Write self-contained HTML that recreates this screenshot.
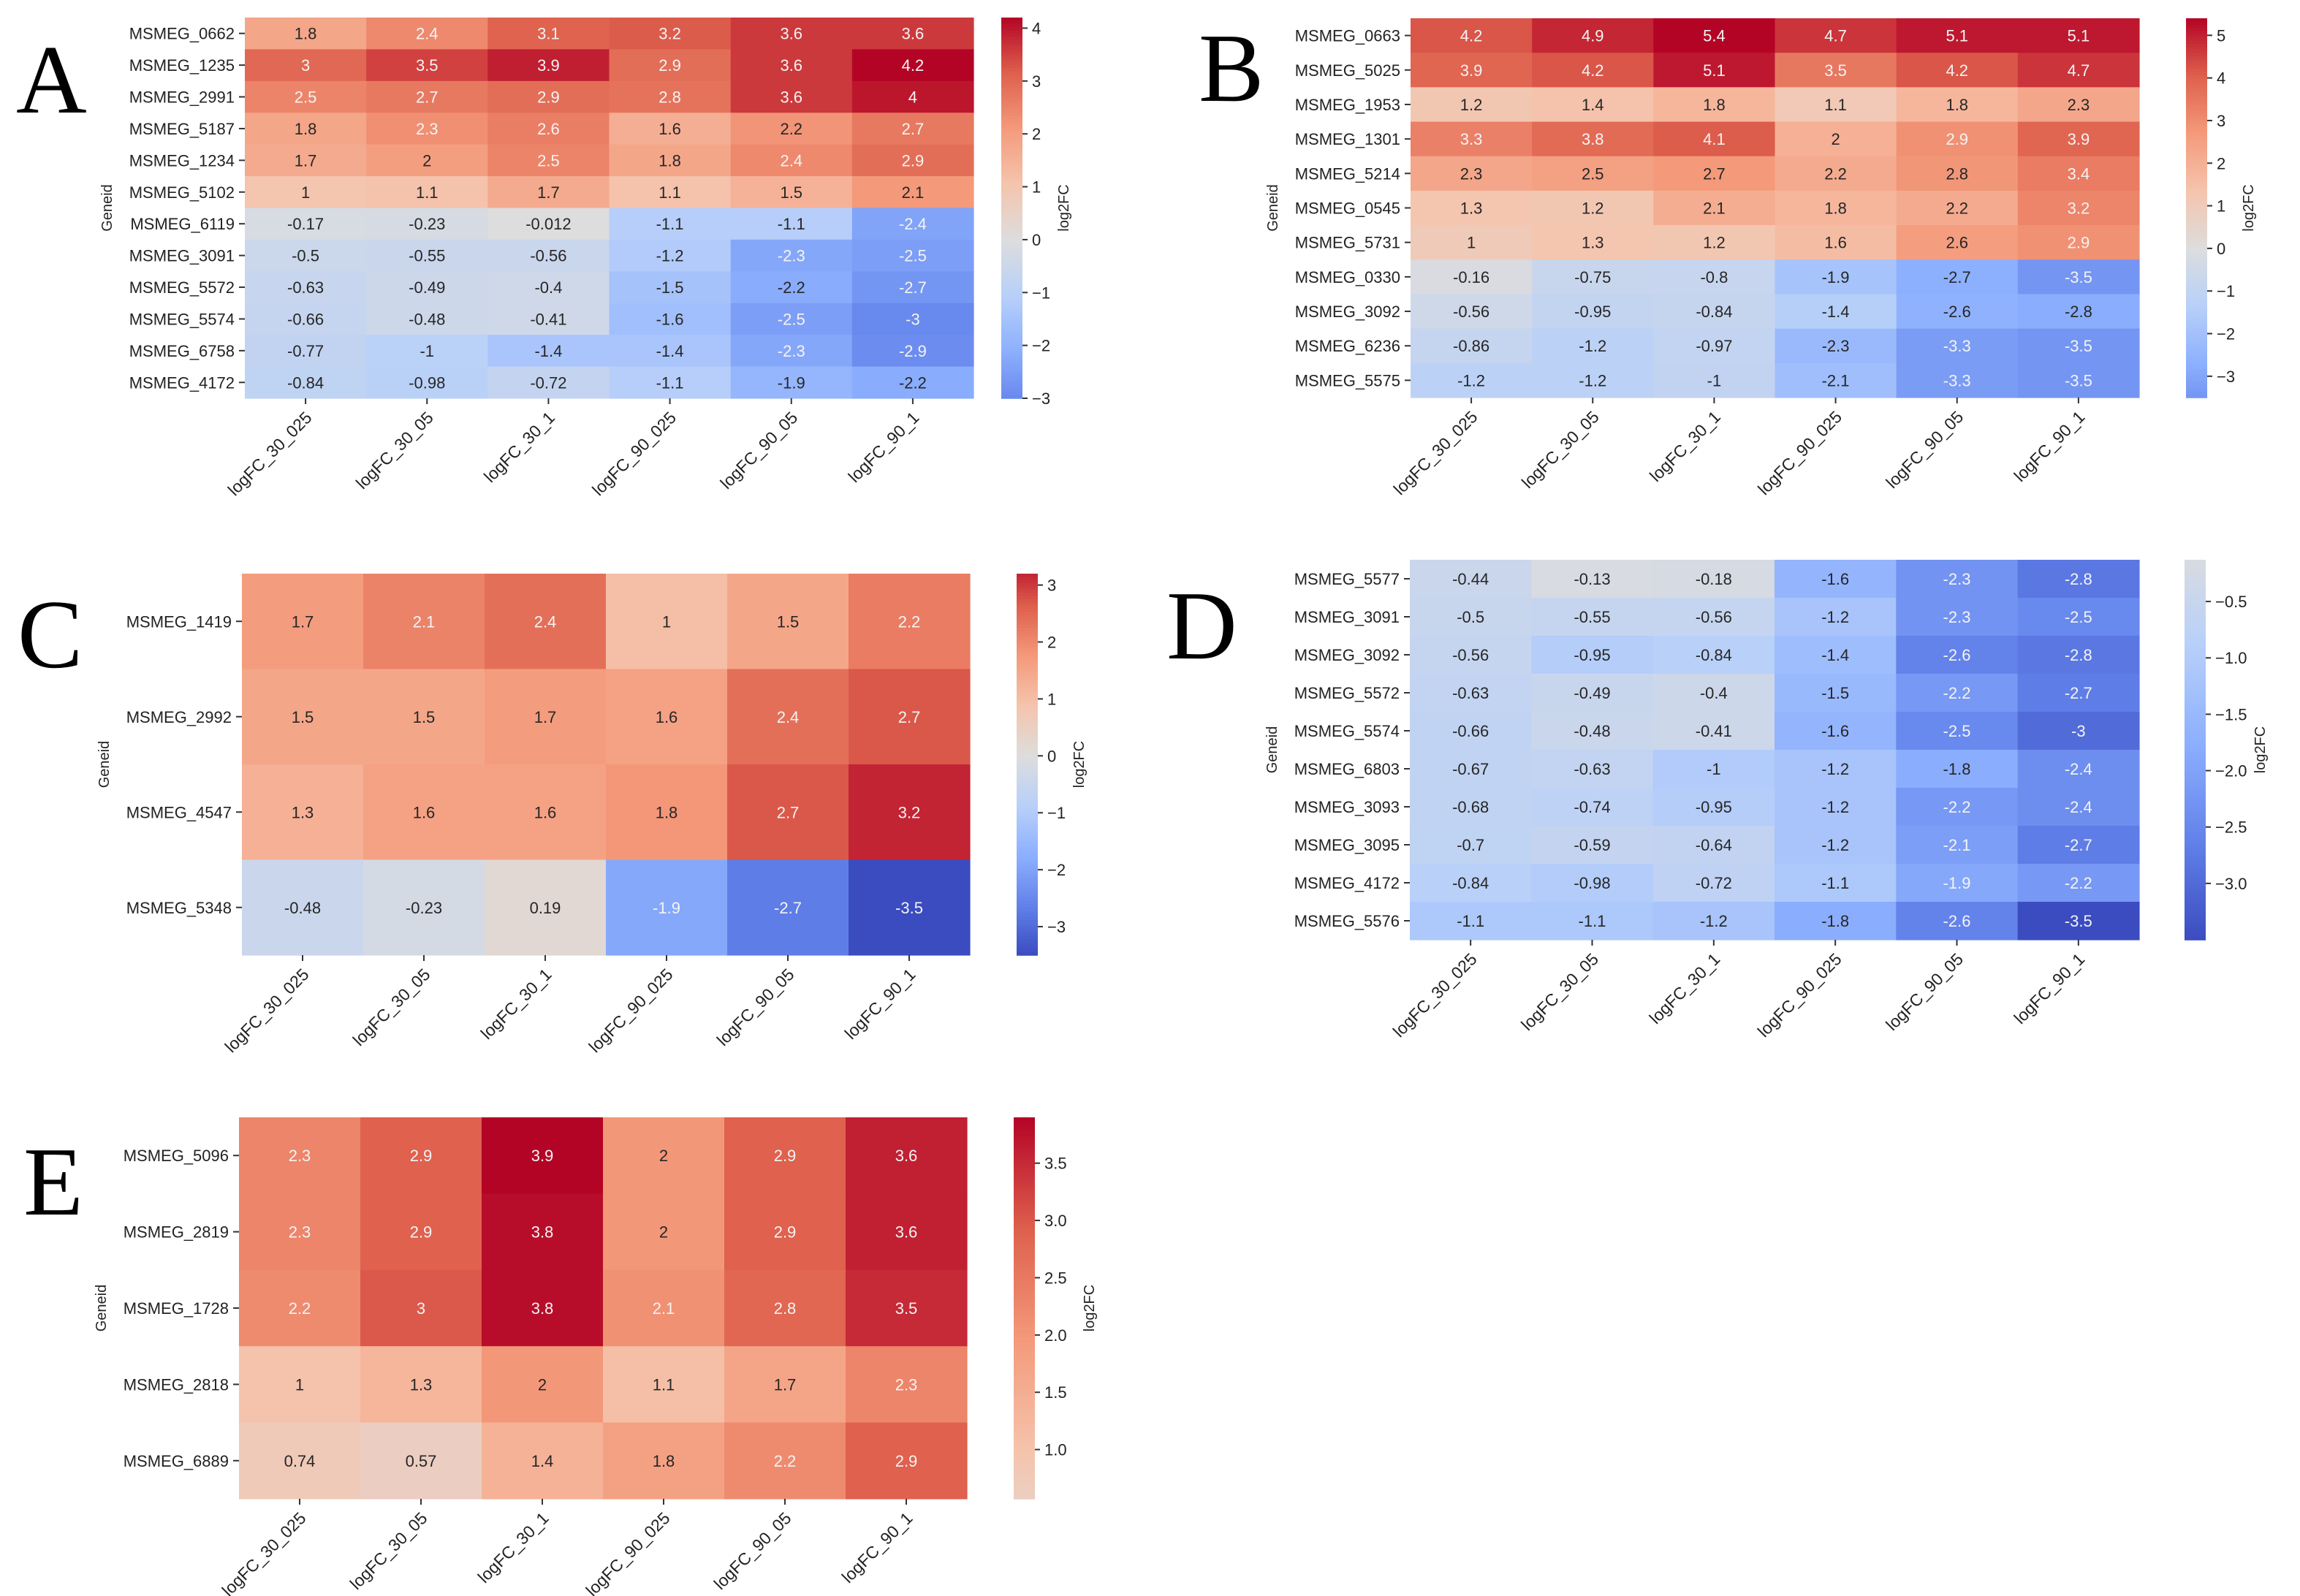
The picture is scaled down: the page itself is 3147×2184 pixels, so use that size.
<!DOCTYPE html>
<html><head><meta charset="utf-8">
<style>
html,body{margin:0;padding:0;background:#fff;}
svg{display:block;}
text{font-family:"Liberation Sans",sans-serif;}
.letter{font-family:"Liberation Serif",serif;}
</style></head>
<body>
<svg id="fig" width="3147" height="2184" viewBox="0 0 3147 2184" xmlns="http://www.w3.org/2000/svg"></svg>
<script>
const columns = ["logFC_30_025","logFC_30_05","logFC_30_1","logFC_90_025","logFC_90_05","logFC_90_1"];

const genesA = ["MSMEG_0662","MSMEG_1235","MSMEG_2991","MSMEG_5187","MSMEG_1234","MSMEG_5102","MSMEG_6119","MSMEG_3091","MSMEG_5572","MSMEG_5574","MSMEG_6758","MSMEG_4172"];
const valuesA = [
 [1.8,2.4,3.1,3.2,3.6,3.6],[3,3.5,3.9,2.9,3.6,4.2],[2.5,2.7,2.9,2.8,3.6,4],[1.8,2.3,2.6,1.6,2.2,2.7],
 [1.7,2,2.5,1.8,2.4,2.9],[1,1.1,1.7,1.1,1.5,2.1],[-0.17,-0.23,-0.012,-1.1,-1.1,-2.4],[-0.5,-0.55,-0.56,-1.2,-2.3,-2.5],
 [-0.63,-0.49,-0.4,-1.5,-2.2,-2.7],[-0.66,-0.48,-0.41,-1.6,-2.5,-3],[-0.77,-1,-1.4,-1.4,-2.3,-2.9],[-0.84,-0.98,-0.72,-1.1,-1.9,-2.2]];
const ticksA = [-3,-2,-1,0,1,2,3,4];

const genesB = ["MSMEG_0663","MSMEG_5025","MSMEG_1953","MSMEG_1301","MSMEG_5214","MSMEG_0545","MSMEG_5731","MSMEG_0330","MSMEG_3092","MSMEG_6236","MSMEG_5575"];
const valuesB = [
 [4.2,4.9,5.4,4.7,5.1,5.1],[3.9,4.2,5.1,3.5,4.2,4.7],[1.2,1.4,1.8,1.1,1.8,2.3],[3.3,3.8,4.1,2,2.9,3.9],
 [2.3,2.5,2.7,2.2,2.8,3.4],[1.3,1.2,2.1,1.8,2.2,3.2],[1,1.3,1.2,1.6,2.6,2.9],[-0.16,-0.75,-0.8,-1.9,-2.7,-3.5],
 [-0.56,-0.95,-0.84,-1.4,-2.6,-2.8],[-0.86,-1.2,-0.97,-2.3,-3.3,-3.5],[-1.2,-1.2,-1,-2.1,-3.3,-3.5]];
const ticksB = [-3,-2,-1,0,1,2,3,4,5];

const genesC = ["MSMEG_1419","MSMEG_2992","MSMEG_4547","MSMEG_5348"];
const valuesC = [[1.7,2.1,2.4,1,1.5,2.2],[1.5,1.5,1.7,1.6,2.4,2.7],[1.3,1.6,1.6,1.8,2.7,3.2],[-0.48,-0.23,0.19,-1.9,-2.7,-3.5]];
const ticksC = [-3,-2,-1,0,1,2,3];

const genesD = ["MSMEG_5577","MSMEG_3091","MSMEG_3092","MSMEG_5572","MSMEG_5574","MSMEG_6803","MSMEG_3093","MSMEG_3095","MSMEG_4172","MSMEG_5576"];
const valuesD = [
 [-0.44,-0.13,-0.18,-1.6,-2.3,-2.8],[-0.5,-0.55,-0.56,-1.2,-2.3,-2.5],[-0.56,-0.95,-0.84,-1.4,-2.6,-2.8],
 [-0.63,-0.49,-0.4,-1.5,-2.2,-2.7],[-0.66,-0.48,-0.41,-1.6,-2.5,-3],[-0.67,-0.63,-1,-1.2,-1.8,-2.4],
 [-0.68,-0.74,-0.95,-1.2,-2.2,-2.4],[-0.7,-0.59,-0.64,-1.2,-2.1,-2.7],[-0.84,-0.98,-0.72,-1.1,-1.9,-2.2],[-1.1,-1.1,-1.2,-1.8,-2.6,-3.5]];
const ticksD = [-3.0,-2.5,-2.0,-1.5,-1.0,-0.5];

const genesE = ["MSMEG_5096","MSMEG_2819","MSMEG_1728","MSMEG_2818","MSMEG_6889"];
const valuesE = [[2.3,2.9,3.9,2,2.9,3.6],[2.3,2.9,3.8,2,2.9,3.6],[2.2,3,3.8,2.1,2.8,3.5],[1,1.3,2,1.1,1.7,2.3],[0.74,0.57,1.4,1.8,2.2,2.9]];
const ticksE = [1.0,1.5,2.0,2.5,3.0,3.5];

const NS = "http://www.w3.org/2000/svg";
const svg = document.getElementById('fig');
function mk(tag, attrs, parent){const e=document.createElementNS(NS,tag);for(const k in attrs)e.setAttribute(k,attrs[k]);(parent||svg).appendChild(e);return e;}

const cw = [[59,76,192],[98,130,234],[141,176,254],[184,208,249],[221,221,221],[245,196,173],[244,154,123],[222,96,77],[180,4,38]];
function cmap(t){t=Math.max(0,Math.min(1,t));const p=t*8;const i=Math.min(7,Math.floor(p));const f=p-i;
 return cw[i].map((c,k)=>Math.round(c+(cw[i+1][k]-c)*f));}
function fmt(v){return String(v);}

function panel(letter, genes, values, ticks, box, cb, letterPos, tickDec){
  const g = mk('g',{});
  
  
  const flat = values.flat(); const vmin=Math.min(...flat), vmax=Math.max(...flat);
  const vr = Math.max(Math.abs(vmin),Math.abs(vmax));
  const nR=genes.length, nC=columns.length;
  const cwid=(box.x2-box.x1)/nC, rh=(box.y2-box.y1)/nR;
  const xs=c=>box.x1+c*cwid, ys=r=>box.y1+r*rh;
  const col=v=>cmap((v+vr)/(2*vr));
  const L = mk('text',{x:letterPos[0],y:letterPos[1],'font-size':134,class:'letter',fill:'#000'},g);
  L.textContent=letter;
  
  
  values.forEach((row,r)=>row.forEach((v,c)=>{
    const cc=col(v);
    const rect=mk('rect',{x:xs(c),y:ys(r),width:cwid+0.6,height:rh+0.6,fill:`rgb(${cc})`},g);
    
    
    const light = Math.abs(v)/vr > 0.525;
    const t=mk('text',{x:xs(c)+cwid/2,y:ys(r)+rh/2+8,'text-anchor':'middle','font-size':22,fill:light?'#f4f4f4':'#262626'},g);
    t.textContent=fmt(v);
    
    
  }));
  genes.forEach((gn,r)=>{
    const y=ys(r)+rh/2;
    mk('line',{x1:box.x1-8,x2:box.x1,y1:y,y2:y,stroke:'#333','stroke-width':2},g);
    const t=mk('text',{x:box.x1-14,y:y+8,'text-anchor':'end','font-size':22,fill:'#222'},g);
    t.textContent=gn;
    
    
  });
  columns.forEach((cn,c)=>{
    const x=xs(c)+cwid/2;
    mk('line',{x1:x,x2:x,y1:box.y2,y2:box.y2+8,stroke:'#333','stroke-width':2},g);
    const t=mk('text',{x:x+10,y:box.y2+28,'text-anchor':'end','font-size':23,fill:'#222',transform:`rotate(-45 ${x+10} ${box.y2+28})`},g);
    t.textContent=cn;
    
    
  });
  const gx=box.x1-182, gyc=(box.y1+box.y2)/2;
  const gy=mk('text',{x:gx,y:gyc,'text-anchor':'middle','font-size':20,fill:'#222',transform:`rotate(-90 ${gx} ${gyc})`},g);
  gy.textContent='Geneid';
  
  
  // colorbar
  const cbg=mk('g',{},g);
  
  
  const N=120, ch=(box.y2-box.y1)/N;
  for(let i=0;i<N;i++){const v=vmax-(vmax-vmin)*(i+0.5)/N;
    mk('rect',{x:cb,y:box.y1+i*ch,width:29,height:ch+0.8,fill:`rgb(${col(v)})`},cbg);}
  const cy=v=>box.y1+(vmax-v)/(vmax-vmin)*(box.y2-box.y1);
  ticks.forEach(tv=>{const y=cy(tv);
    mk('line',{x1:cb+29,x2:cb+36,y1:y,y2:y,stroke:'#333','stroke-width':2},cbg);
    const t=mk('text',{x:cb+42,y:y+8,'font-size':22,fill:'#222'},cbg);
    t.textContent=(tv<0?'\u2212':'')+Math.abs(tv).toFixed(tickDec);
    
    
  });
  const lx=cb+(tickDec?110:92), ly=(box.y1+box.y2)/2;
  const lt=mk('text',{x:lx,y:ly,'text-anchor':'middle','font-size':20,fill:'#222',transform:`rotate(-90 ${lx} ${ly})`},cbg);
  lt.textContent='log2FC';
  
  
}

panel('A',genesA,valuesA,ticksA,{x1:335,x2:1332,y1:24,y2:545},1370,[22,154],0);
panel('B',genesB,valuesB,ticksB,{x1:1930,x2:2927,y1:25,y2:544},2991,[1640,138],0);
panel('C',genesC,valuesC,ticksC,{x1:331,x2:1327,y1:785,y2:1307},1391,[24,913],0);
panel('D',genesD,valuesD,ticksD,{x1:1929,x2:2927,y1:766,y2:1286},2989,[1596,901],1);
panel('E',genesE,valuesE,ticksE,{x1:327,x2:1323,y1:1529,y2:2051},1387,[32,1662],1);
</script>
</body></html>
